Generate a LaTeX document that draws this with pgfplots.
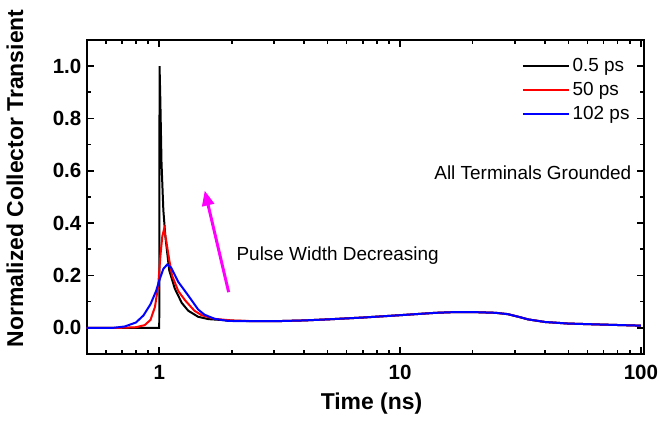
\documentclass[border=0pt]{standalone}
\usepackage{pgfplots}
\pgfplotsset{compat=1.18}
\usepackage{fontspec}
\setmainfont{Liberation Sans}
\usetikzlibrary{arrows.meta}
\definecolor{mag}{RGB}{255,0,255}

\begin{document}
\begin{tikzpicture}
\useasboundingbox (-43.5pt,-34.5pt) rectangle (287pt,177.5pt);
\begin{semilogxaxis}[
    scale only axis,
    width=279.5pt, height=157.5pt,
    xmin=0.5, xmax=103,
    ymin=-0.1, ymax=1.1,
    axis line style={line width=0.9pt},
    every tick/.style={black, line width=0.8pt},
    tick align=inside,
    major tick length=3.5pt, minor tick length=2pt,
    xtick={1,10,100}, xticklabels={1,10,100},
    minor xtick={0.5,0.6,0.7,0.8,0.9,2,3,4,5,6,7,8,9,20,30,40,50,60,70,80,90},
    ytick={0,0.2,0.4,0.6,0.8,1.0},
    minor ytick={-0.1,0.1,0.3,0.5,0.7,0.9,1.1},
    /pgf/number format/assume math mode=true,
    yticklabel style={/pgf/number format/fixed, /pgf/number format/fixed zerofill,
        /pgf/number format/precision=1, font=\fontsize{10.3}{12}\selectfont\bfseries,
        inner sep=2.5pt},
    xticklabel style={font=\fontsize{10.3}{12}\selectfont\bfseries, inner sep=0pt, yshift=-5.5pt},
    xlabel={Time (ns)},
    ylabel={Normalized Collector Transient},
    label style={font=\fontsize{11.5}{13}\selectfont\bfseries, inner sep=0pt},
    xlabel style={at={(axis description cs:0.511,-0.159)}, anchor=center},
    ylabel style={at={(axis description cs:-0.129,0.559)}, anchor=center, rotate=0},
    legend style={draw=none, fill=none, at={(0.98,0.955)}, anchor=north east,
        font=\fontsize{9.5}{11}\selectfont, inner sep=0pt, row sep=0pt,
        nodes={inner sep=1.5pt, text height=7pt, text depth=2pt}},
    legend cell align=left,
    legend image code/.code={\draw[#1] (0pt,0pt) -- (23pt,0pt);},
]
\addplot[black, line width=1pt, mark=none] coordinates {
    (0.5,0) (1.0,0) (1.003,1.0) (1.01,0.88) (1.022,0.63) (1.04,0.45) (1.06,0.35)
    (1.1,0.22) (1.16,0.15) (1.24,0.095) (1.32,0.065) (1.45,0.042) (1.6,0.033)
    (2,0.027) (2.5,0.025) (3,0.025) (4,0.028) (5,0.032) (7,0.039) (10,0.048)
    (14,0.057) (17,0.06) (20,0.06) (25,0.057) (28,0.052) (31,0.042) (34,0.032)
    (40,0.022) (50,0.016) (70,0.012) (100,0.008)
};
\addlegendentry{0.5 ps}
\addplot[red, line width=1pt, mark=none] coordinates {
    (0.5,0) (0.7,0) (0.8,0.002) (0.87,0.01) (0.92,0.03) (0.96,0.08) (0.99,0.16)
    (1.01,0.27) (1.03,0.35) (1.048,0.378) (1.07,0.33) (1.1,0.26) (1.13,0.2)
    (1.2,0.14) (1.28,0.105) (1.4,0.065) (1.5,0.048) (1.7,0.034) (2,0.028)
    (2.5,0.025) (3,0.025) (4,0.028) (5,0.032) (7,0.039) (10,0.048)
    (14,0.057) (17,0.06) (20,0.06) (25,0.057) (28,0.052) (31,0.042) (34,0.032)
    (40,0.022) (50,0.016) (70,0.012) (100,0.008)
};
\addlegendentry{50 ps}
\addplot[blue, line width=1pt, mark=none] coordinates {
    (0.5,0) (0.65,0) (0.72,0.005) (0.8,0.02) (0.86,0.047) (0.92,0.09) (0.97,0.14)
    (1.0,0.18) (1.04,0.225) (1.08,0.242) (1.12,0.23) (1.2,0.175) (1.32,0.123)
    (1.45,0.07) (1.54,0.05) (1.7,0.034) (1.93,0.026) (2.4,0.025) (3,0.025)
    (4,0.028) (5,0.032) (7,0.039) (10,0.048) (14,0.057) (17,0.06) (20,0.06)
    (25,0.057) (28,0.052) (31,0.042) (34,0.032) (40,0.022) (50,0.016)
    (70,0.012) (100,0.008)
};
\addlegendentry{102 ps}
\draw[mag, line width=1.5pt, -{Triangle[length=7.5pt, width=6pt]}]
    (axis cs:1.942,0.136) -- (axis cs:1.545,0.524);
\node[anchor=west, inner sep=0pt, font=\fontsize{9.5}{11}\selectfont]
    at (axis cs:2.087,0.276) {Pulse Width Decreasing};
\node[anchor=east, inner sep=0pt, font=\fontsize{9.5}{11}\selectfont]
    at (axis cs:91.5,0.592) {All Terminals Grounded};
\end{semilogxaxis}
\end{tikzpicture}
\end{document}
